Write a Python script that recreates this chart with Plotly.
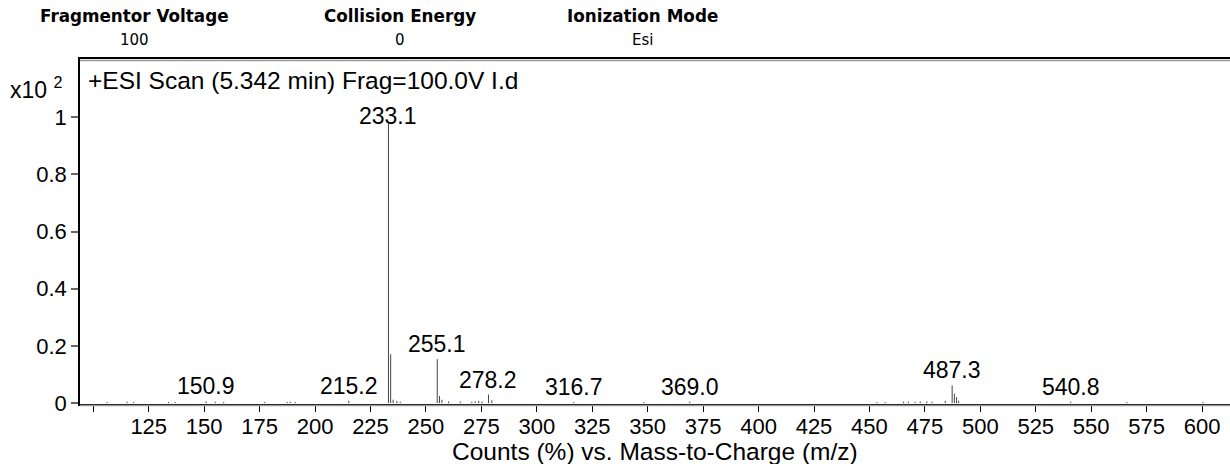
import plotly.graph_objects as go

# ---- data ----
mz = [106.2, 115.2, 118.2, 133.9, 136.9, 150.9, 155.0, 158.8, 177.3, 187.4, 188.8,
      191.1, 215.2, 233.1, 234.1, 235.2, 236.9, 238.4, 255.1, 256.1, 257.2, 260.2,
      265.5, 270.7, 272.2, 273.8, 275.3, 278.2, 279.7, 316.7, 348.3, 369.0, 453.4,
      457.1, 465.4, 467.6, 470.6, 472.9, 475.9, 478.2, 484.2, 487.3, 488.3, 489.3,
      490.2, 540.8, 566.1, 600.4]
intensity = [0.004, 0.005, 0.004, 0.004, 0.004, 0.006, 0.005, 0.004, 0.004, 0.004, 0.005,
             0.004, 0.008, 0.98, 0.171, 0.012, 0.008, 0.005, 0.154, 0.025, 0.012, 0.006,
             0.006, 0.005, 0.006, 0.008, 0.006, 0.030, 0.010, 0.004, 0.004, 0.005, 0.004,
             0.004, 0.005, 0.005, 0.005, 0.006, 0.006, 0.005, 0.008, 0.062, 0.033, 0.021,
             0.008, 0.005, 0.004, 0.004]
label_mz = [150.9, 215.2, 233.1, 255.1, 278.2, 316.7, 369.0, 487.3, 540.8]
x_ticks = list(range(125, 601, 25))
x_unlabeled_ticks = [100]
y_ticks = [0, 0.2, 0.4, 0.6, 0.8, 1]
y_tick_text = ["0", "0.2", "0.4", "0.6", "0.8", "1"]
header_names = ["Fragmentor Voltage", "Collision Energy", "Ionization Mode"]
header_values = ["100", "0", "Esi"]
scan_title = "+ESI Scan (5.342 min) Frag=100.0V I.d"
x_title = "Counts (%) vs. Mass-to-Charge (m/z)"

W, H = 1230, 464
ML, MR, MT, MB = 80, 0, 59, 60
PW, PH = W - ML - MR, H - MT - MB

def px_x(px):
    return (px - ML) / PW

def px_y(py):
    return (H - MB - py) / PH

# stick spectrum
xs, ys = [], []
for m, h in zip(mz, intensity):
    xs += [m, m, None]
    ys += [0, h, None]

fig = go.Figure()
fig.add_trace(go.Scatter(x=xs, y=ys, mode="lines",
                         line=dict(color="#444444", width=1),
                         hoverinfo="skip", showlegend=False))

FONT = "Liberation Sans, Arial"
ann = []
hmax = max(intensity)
for lm in label_mz:
    h = intensity[mz.index(lm)]
    ann.append(dict(x=lm, y=h, xref="x", yref="y", text=f"{lm:.1f}",
                    showarrow=False, yanchor="bottom", xanchor="center",
                    yshift=-8 if h == hmax else 0,
                    font=dict(family=FONT, size=23, color="black")))

header_px = [134, 400, 642]
for name, val, cx in zip(header_names, header_values, header_px):
    ann.append(dict(x=px_x(cx), y=px_y(16), xref="paper", yref="paper", text=f"<b>{name}</b>",
                    showarrow=False, xanchor="center", yanchor="middle",
                    font=dict(family="DejaVu Sans", size=16.8, color="black")))
    ann.append(dict(x=px_x(cx), y=px_y(40), xref="paper", yref="paper", text=val,
                    showarrow=False, xanchor="center", yanchor="middle",
                    font=dict(family="DejaVu Sans", size=15, color="black")))

ann.append(dict(x=px_x(86), y=px_y(80), xref="paper", yref="paper", text=scan_title,
                showarrow=False, xanchor="left", yanchor="middle",
                font=dict(family=FONT, size=24.5, color="black")))
ann.append(dict(x=px_x(8), y=px_y(88), xref="paper", yref="paper", text="x10 <sup>2</sup>",
                showarrow=False, xanchor="left", yanchor="middle",
                font=dict(family=FONT, size=23, color="black")))
ann.append(dict(x=0.5, y=px_y(451), xref="paper", yref="paper", text=x_title,
                showarrow=False, xanchor="center", yanchor="middle",
                font=dict(family=FONT, size=24.5, color="black")))

fig.update_layout(
    width=W, height=H,
    margin=dict(l=ML, r=MR, t=MT, b=MB, pad=0),
    paper_bgcolor="white", plot_bgcolor="white",
    showlegend=False,
    annotations=ann,
    xaxis=dict(range=[94.0, 612.6], tickvals=x_ticks,
               ticks="outside", ticklen=6, tickwidth=1, tickcolor="black",
               ticklabelstandoff=-4,
               minor=dict(tickvals=x_unlabeled_ticks, ticks="outside", ticklen=6,
                          tickwidth=1, tickcolor="black", showgrid=False),
               showline=True, linecolor="black", linewidth=1.5, mirror=True,
               showgrid=False, zeroline=False, automargin=False,
               tickfont=dict(family=FONT, size=22, color="black")),
    yaxis=dict(range=[-0.003, 1.203], tickvals=y_ticks, ticktext=y_tick_text,
               ticks="outside", ticklen=7, tickwidth=1.5, tickcolor="#666666",
               showline=True, linecolor="black", linewidth=1.5,
               showgrid=False, zeroline=False, automargin=False,
               tickfont=dict(family=FONT, size=22, color="black")),
    shapes=[
        dict(type="line", xref="paper", yref="paper", ysizemode="pixel", yanchor=0,
             x0=0, x1=1, y0=-1.5, y1=-1.5, line=dict(color="#9a9a9a", width=1.5)),
        dict(type="line", xref="paper", yref="paper", ysizemode="pixel", yanchor=1,
             x0=0, x1=1, y0=-1.5, y1=-1.5, line=dict(color="#9a9a9a", width=1.5)),
    ],
)

fig.write_html("out.html", config={"displayModeBar": False},
               post_script="document.body.style.margin='0';document.body.style.overflow='hidden';")
